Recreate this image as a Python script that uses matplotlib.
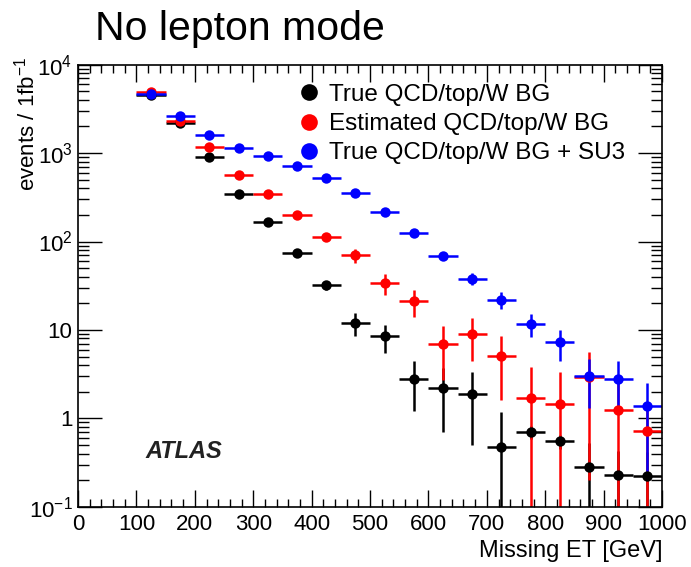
import numpy as np
import matplotlib
matplotlib.use("Agg")
import matplotlib.pyplot as plt
from matplotlib.lines import Line2D
from matplotlib.ticker import FixedLocator, MultipleLocator, LogLocator, NullFormatter

plt.rcParams["font.family"] = ["Liberation Sans", "DejaVu Sans"]
plt.rcParams["mathtext.fontset"] = "custom"
plt.rcParams["mathtext.rm"] = "Liberation Sans"
plt.rcParams["mathtext.it"] = "Liberation Sans:italic"

# -----------------------------
# Data (bin centres, 50 GeV bins)
# -----------------------------
met = np.arange(125, 1000, 50)
bin_half = 25

true_bg = [4540, 2190, 900, 344, 166, 74, 32, 12, 8.5, 2.8, 2.2, 1.9,
           0.47, 0.70, 0.55, 0.28, 0.23, 0.22]
true_bg_err = [60, 40, 25, 15, 10, 6, 4, 3.5, 3.0, 1.6, 1.5, 1.4,
               0.7, 0.12, 0.1, 0.25, 0.2, 0.2]

est_bg = [4900, 2300, 1170, 565, 344, 200, 113, 70, 34, 21, 6.9, 9.0,
          5.1, 1.7, 1.45, 2.9, 1.24, 0.72]
est_bg_err = [80, 50, 30, 20, 15, 12, 12, 13, 9, 7, 4.2, 4.6,
              3.5, 2.1, 1.9, 2.7, 1.3, 0.8]

true_su3 = [4650, 2630, 1600, 1140, 927, 714, 520, 355, 215, 125, 69, 38,
            22, 11.7, 7.3, 3.0, 2.8, 1.37]
true_su3_err = [60, 45, 35, 30, 25, 22, 20, 16, 12, 9, 7, 6,
                4.6, 3.3, 2.8, 1.7, 1.65, 1.17]

labels = ["True QCD/top/W BG", "Estimated QCD/top/W BG", "True QCD/top/W BG + SU3"]
colors = ["black", "red", "blue"]

# -----------------------------
# Plot
# -----------------------------
fig = plt.figure(figsize=(6.91, 5.67), dpi=100)
ax = fig.add_axes([0.1129, 0.1063, 0.8452, 0.7796])

for vals, errs, c in zip([true_bg, est_bg, true_su3],
                         [true_bg_err, est_bg_err, true_su3_err], colors):
    ax.errorbar(met, vals, yerr=errs, xerr=bin_half, fmt="o", color=c,
                markersize=7.5, elinewidth=1.8, capsize=0, markeredgewidth=0)

ax.set_yscale("log")
ax.set_xlim(0, 1000)
ax.set_ylim(0.1, 1e4)

# ROOT-like ticks
ax.xaxis.set_major_locator(MultipleLocator(100))
ax.xaxis.set_minor_locator(MultipleLocator(20))
ax.yaxis.set_major_locator(FixedLocator([0.1, 1, 10, 100, 1000, 10000]))
ax.yaxis.set_minor_locator(LogLocator(base=10, subs=np.arange(2, 10)))
ax.yaxis.set_minor_formatter(NullFormatter())
ax.set_yticklabels(["$10^{-1}$", "1", "10", "$10^{2}$", "$10^{3}$", "$10^{4}$"])
ax.tick_params(which="both", direction="in", top=True, right=True,
               labelsize=16, width=1)
ax.tick_params(axis="x", which="major", length=12, pad=5)
ax.tick_params(axis="x", which="minor", length=6)
ax.tick_params(axis="y", which="major", length=17, pad=4)
ax.tick_params(axis="y", which="minor", length=8)
for s in ax.spines.values():
    s.set_linewidth(1.2)

ax.set_xlabel("Missing ET [GeV]", fontsize=17, loc="right")
ax.set_ylabel("events / 1fb$^{-1}$", fontsize=16, loc="top")
ax.yaxis.set_label_coords(-0.066, 1.017)

# Legend
handles = [Line2D([], [], marker="o", linestyle="none", color=c,
                  markersize=12, markeredgewidth=0) for c in colors]
ax.legend(handles, labels, loc="upper left", bbox_to_anchor=(0.371, 0.957),
          frameon=False, fontsize=17.5, handletextpad=0.2,
          labelspacing=0.3, handlelength=1.2, borderaxespad=0,
          borderpad=0)

ax.text(0.181, 0.124, "ATLAS", transform=ax.transAxes, fontsize=17,
        fontweight="bold", fontstyle="italic", ha="center", va="center",
        color="#222222")

fig.text(0.137, 0.93, "No lepton mode", fontsize=29.5, ha="left", va="baseline")

fig.savefig("out.png", dpi=100)
